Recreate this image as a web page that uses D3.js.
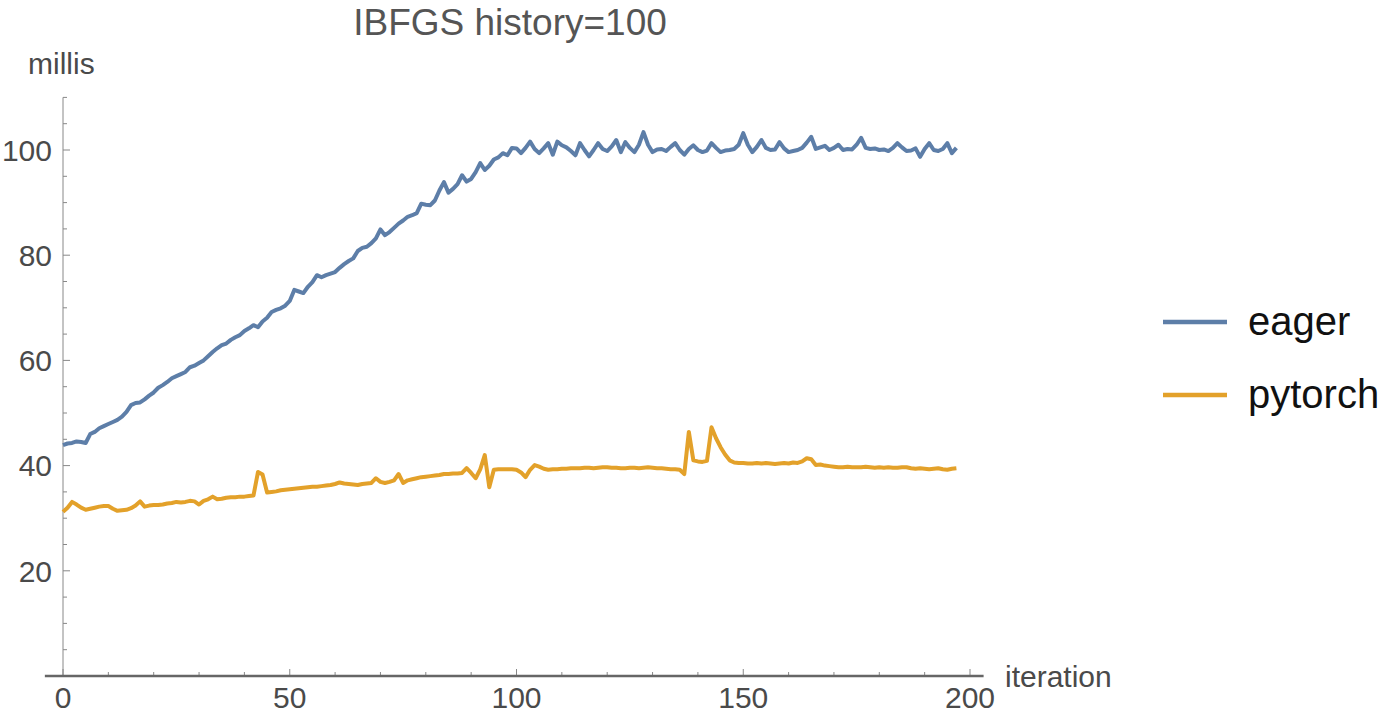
<!DOCTYPE html>
<html>
<head>
<meta charset="utf-8">
<script src="https://cdn.jsdelivr.net/npm/d3@7"></script>
<style>
  body { margin: 0; background: #ffffff; }
  text { font-family: "Liberation Sans", Arial, sans-serif; }
</style>
</head>
<body>
<div id="chart"></div>
<script>
// series names shown in the legend
var seriesNames = ["eager", "pytorch"];

// eager timings per iteration (millis)
var eager = [
  43.9, 44.2, 44.3, 44.6, 44.5, 44.3, 46.0, 46.4, 47.1, 47.5,
  47.9, 48.3, 48.7, 49.3, 50.2, 51.5, 51.9, 52.0, 52.6, 53.3,
  53.9, 54.8, 55.3, 55.9, 56.6, 57.0, 57.4, 57.8, 58.7, 59.0,
  59.5, 60.0, 60.8, 61.6, 62.3, 62.9, 63.2, 63.9, 64.4, 64.8,
  65.6, 66.1, 66.7, 66.3, 67.4, 68.1, 69.2, 69.6, 69.9, 70.4,
  71.3, 73.4, 73.1, 72.8, 74.0, 74.9, 76.2, 75.8, 76.2, 76.5,
  76.8, 77.6, 78.3, 78.9, 79.4, 80.8, 81.4, 81.6, 82.3, 83.2,
  84.9, 83.8, 84.4, 85.2, 86.0, 86.6, 87.3, 87.6, 88.0, 89.8,
  89.6, 89.5, 90.4, 92.3, 93.9, 91.9, 92.6, 93.5, 95.2, 94.0,
  94.5, 95.8, 97.5, 96.2, 97.0, 98.2, 98.6, 99.4, 99.0, 100.4,
  100.3, 99.4, 100.4, 101.6, 100.2, 99.4, 100.3, 101.3, 99.1, 101.6,
  100.9, 100.5, 99.8, 99.0, 101.3, 100.0, 98.8, 100.0, 101.3, 100.2,
  99.8, 100.7, 101.9, 99.6, 101.5, 100.4, 99.6, 101.0, 103.4, 101.0,
  99.6, 100.1, 100.2, 99.8, 100.6, 101.3, 100.0, 99.1, 100.2, 100.9,
  100.0, 99.6, 99.9, 101.3, 100.4, 99.6, 99.9, 100.0, 100.2, 101.0,
  103.2, 101.0, 99.6, 100.6, 101.9, 100.4, 100.0, 100.1, 101.5, 100.3,
  99.6, 99.8, 100.0, 100.4, 101.4, 102.5, 100.2, 100.5, 100.8, 100.0,
  100.4, 101.0, 100.0, 100.2, 100.1, 101.0, 102.3, 100.4, 100.2, 100.3,
  100.0, 100.1, 99.8, 100.4, 101.3, 100.5, 99.8, 99.9, 100.3, 98.7,
  100.2, 101.3, 100.0, 99.8, 100.2, 101.3, 99.4, 100.4
];

// pytorch timings per iteration (millis)
var pytorch = [
  31.2, 32.0, 33.1, 32.6, 32.0, 31.6, 31.8, 32.0, 32.2, 32.3,
  32.3, 31.8, 31.4, 31.5, 31.6, 31.9, 32.4, 33.2, 32.2, 32.4,
  32.5, 32.5, 32.6, 32.8, 32.9, 33.1, 33.0, 33.1, 33.3, 33.2,
  32.6, 33.3, 33.6, 34.1, 33.6, 33.7, 33.9, 34.0, 34.0, 34.1,
  34.1, 34.2, 34.3, 38.8, 38.3, 34.9, 35.0, 35.1, 35.3, 35.4,
  35.5, 35.6, 35.7, 35.8, 35.9, 36.0, 36.0, 36.1, 36.2, 36.3,
  36.5, 36.8, 36.6, 36.5, 36.4, 36.3, 36.5, 36.6, 36.7, 37.6,
  36.9, 36.7, 36.9, 37.2, 38.4, 36.7, 37.2, 37.4, 37.6, 37.8,
  37.9, 38.0, 38.1, 38.2, 38.4, 38.4, 38.5, 38.5, 38.6, 39.5,
  38.6, 37.6, 39.3, 42.0, 35.9, 39.2, 39.3, 39.3, 39.3, 39.3,
  39.2, 38.7, 37.8, 39.2, 40.1, 39.8, 39.4, 39.2, 39.3, 39.3,
  39.4, 39.4, 39.5, 39.5, 39.5, 39.6, 39.6, 39.5, 39.6, 39.7,
  39.7, 39.6, 39.6, 39.5, 39.5, 39.6, 39.6, 39.5, 39.6, 39.7,
  39.6, 39.5, 39.5, 39.4, 39.3, 39.3, 39.2, 38.4, 46.4, 41.0,
  40.8, 40.7, 40.9, 47.3, 45.2, 43.5, 42.1, 41.0, 40.6, 40.5,
  40.5, 40.4, 40.4, 40.5, 40.4, 40.5, 40.4, 40.3, 40.4, 40.5,
  40.4, 40.6, 40.5, 40.8, 41.4, 41.2, 40.1, 40.2, 40.0, 39.9,
  39.8, 39.7, 39.7, 39.8, 39.7, 39.7, 39.7, 39.8, 39.7, 39.6,
  39.7, 39.6, 39.7, 39.6, 39.6, 39.7, 39.7, 39.5, 39.4, 39.5,
  39.4, 39.3, 39.4, 39.5, 39.3, 39.2, 39.4, 39.5
];

// tick values for both axes
var xTicks = [0, 50, 100, 150, 200];
var yTicks = [20, 40, 60, 80, 100];

window.onload = function() {
  main();
};

function main() {
  var width = 1400,
      height = 723;

  var svg = d3.select("#chart")
    .append("svg")
    .attr("width", width)
    .attr("height", height);

  // scales, iteration 0 sits on the y axis
  var x = d3.scaleLinear().domain([0, 200]).range([63, 970]);
  var y = d3.scaleLinear().domain([0, 100]).range([676, 150]);

  drawAxes(svg, x, y);

  var colors = ["#5d7ea8", "#e3a12a"];
  var series = [eager, pytorch];

  var line = d3.line()
    .x(function(d, i) { return x(i); })
    .y(function(d) { return y(d); });

  // draw both lines
  series.forEach(function(values, k) {
    svg.append("path")
      .datum(values)
      .attr("d", line)
      .attr("fill", "none")
      .attr("stroke", colors[k])
      .attr("stroke-width", 4)
      .attr("stroke-linejoin", "round");
  });

  // title
  svg.append("text")
    .attr("x", 510)
    .attr("y", 35)
    .attr("text-anchor", "middle")
    .attr("font-size", 37)
    .attr("fill", "#555")
    .text("IBFGS history=100");

  drawLegend(svg, colors);
}

function drawAxes(svg, x, y) {
  var axisColor = "#888";

  // y axis line, from 0 up to 110
  svg.append("line")
    .attr("x1", x(0)).attr("x2", x(0))
    .attr("y1", y(110)).attr("y2", y(0))
    .attr("stroke", axisColor)
    .attr("stroke-width", 1);

  // y minor ticks every 5, major at labels
  d3.range(5, 111, 5).forEach(function(v) {
    var major = yTicks.indexOf(v) >= 0;
    svg.append("line")
      .attr("x1", x(0)).attr("x2", x(0) + (major ? 7 : 4))
      .attr("y1", y(v)).attr("y2", y(v))
      .attr("stroke", axisColor)
      .attr("stroke-width", 1);
  });

  svg.selectAll(".ylab")
    .data(yTicks)
    .enter().append("text")
    .attr("class", "ylab")
    .attr("x", 52)
    .attr("y", function(d) { return y(d); })
    .attr("dy", "0.36em")
    .attr("text-anchor", "end")
    .attr("font-size", 30)
    .attr("fill", "#4a4a4a")
    .text(function(d) { return d; });

  // x ticks
  d3.range(0, 201, 10).forEach(function(v) {
    var major = xTicks.indexOf(v) >= 0;
    svg.append("line")
      .attr("x1", x(v)).attr("x2", x(v))
      .attr("y1", y(0)).attr("y2", y(0) - (major ? 7 : 4))
      .attr("stroke", axisColor)
      .attr("stroke-width", 1);
  });

  // x axis line, a bit thicker
  svg.append("line")
    .attr("x1", x(-4)).attr("x2", x(203))
    .attr("y1", y(0)).attr("y2", y(0))
    .attr("stroke", "#666")
    .attr("stroke-width", 2.5);

  svg.selectAll(".xlab")
    .data(xTicks)
    .enter().append("text")
    .attr("class", "xlab")
    .attr("x", function(d) { return x(d); })
    .attr("y", 708)
    .attr("text-anchor", "middle")
    .attr("font-size", 30)
    .attr("fill", "#4a4a4a")
    .text(function(d) { return d; });

  // axis labels
  svg.append("text")
    .attr("x", 1005)
    .attr("y", 687)
    .attr("font-size", 30)
    .attr("fill", "#4a4a4a")
    .text("iteration");

  svg.append("text")
    .attr("x", 28)
    .attr("y", 74)
    .attr("font-size", 30)
    .attr("fill", "#4a4a4a")
    .text("millis");
}

function drawLegend(svg, colors) {
  var rowY = [322, 395];
  seriesNames.forEach(function(name, i) {
    svg.append("line")
      .attr("x1", 1163).attr("x2", 1227)
      .attr("y1", rowY[i]).attr("y2", rowY[i])
      .attr("stroke", colors[i])
      .attr("stroke-width", 4.5);

    svg.append("text")
      .attr("x", 1248)
      .attr("y", rowY[i] + 13)
      .attr("font-size", 40)
      .attr("fill", "#111")
      .text(name);
  });
}
</script>
</body>
</html>
